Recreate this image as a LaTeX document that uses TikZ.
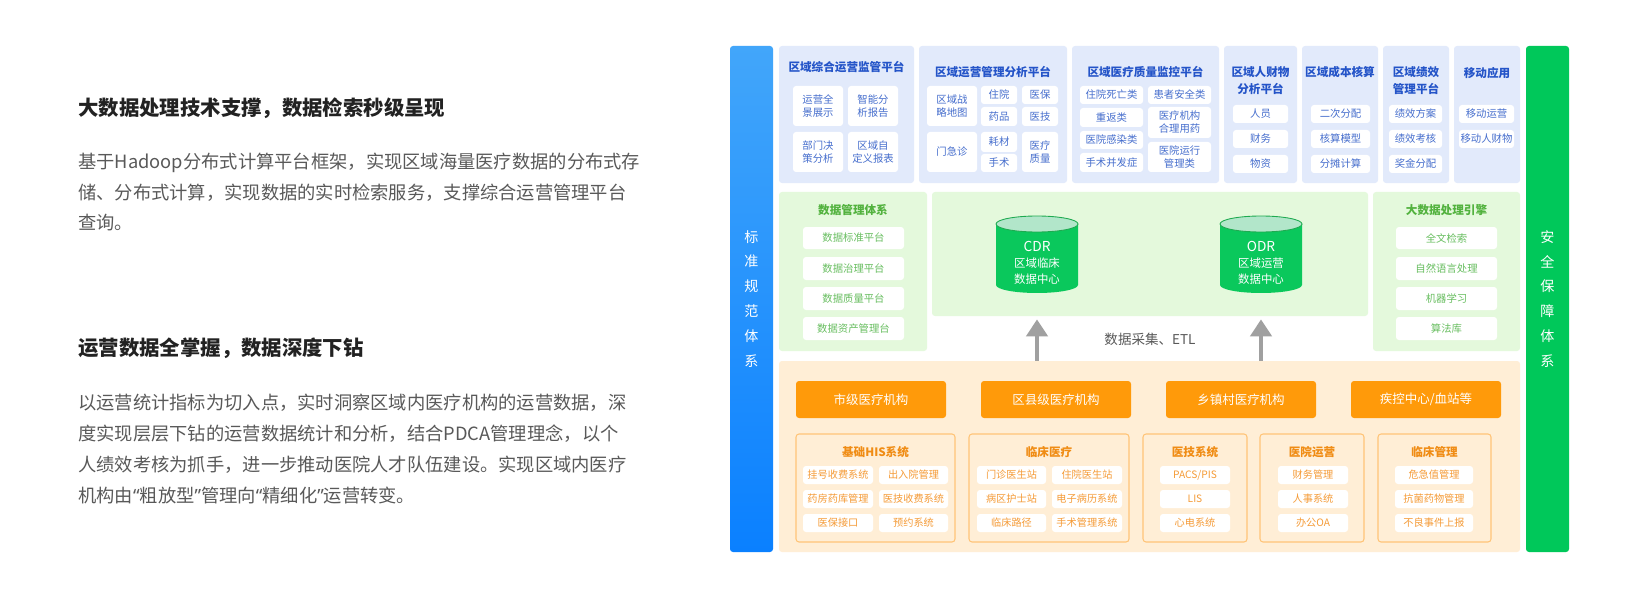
\documentclass[tikz,border=0pt]{standalone}
\usepackage{fontspec}
\setmainfont{Noto Sans CJK SC}
\newfontfamily\quotefont{Noto Sans}
\usepackage{tikz}
\usetikzlibrary{
  arrows.meta,
  calc
}
\definecolor{inkdark}{RGB}{34,34,34}
\definecolor{inkgray}{RGB}{89,89,89}
\definecolor{barblue}{RGB}{10,128,255}
\definecolor{barblueup}{RGB}{66,166,250}
\definecolor{bargreen}{RGB}{0,200,90}
\definecolor{appbg}{RGB}{226,234,251}
\definecolor{appink}{RGB}{36,84,200}
\definecolor{appitem}{RGB}{70,110,205}
\definecolor{databg}{RGB}{228,249,220}
\definecolor{dataink}{RGB}{82,178,62}
\definecolor{dataitem}{RGB}{104,190,96}
\definecolor{dbgreen}{RGB}{10,200,92}
\definecolor{dbtop}{RGB}{178,230,202}
\definecolor{dbedge}{RGB}{30,170,80}
\definecolor{arrowgray}{RGB}{160,160,160}
\definecolor{srcbg}{RGB}{255,238,214}
\definecolor{srcorange}{RGB}{255,154,10}
\definecolor{srcline}{RGB}{255,196,120}
\definecolor{srcink}{RGB}{240,140,20}
\definecolor{srcitem}{RGB}{245,155,55}
\tikzset{
  panel/.style={rounded corners=0.06cm,inner sep=0pt},
  appbox/.style={panel,fill=appbg},
  appcell/.style={panel,fill=white,text=appitem,align=center,font=\fontsize{5.9}{7.4}\selectfont},
  apptitle/.style={inner sep=0pt,text=appink,align=center,font=\bfseries\fontsize{6.6}{9.7}\selectfont},
  databox/.style={panel,fill=databg},
  datacell/.style={panel,fill=white,text=dataitem,font=\fontsize{5.9}{7}\selectfont},
  datatitle/.style={inner sep=0pt,text=dataink,font=\bfseries\fontsize{6.6}{8}\selectfont},
  dbtext/.style={inner sep=0pt,text=white,align=center,font=\fontsize{6.5}{9.1}\selectfont},
  srcbox/.style={panel,fill=srcbg},
  srchead/.style={panel,fill=srcorange,text=white,font=\fontsize{7.1}{8}\selectfont},
  srcgroup/.style={panel,draw=srcline,line width=0.6pt,fill=srcbg},
  srccell/.style={panel,fill=white,text=srcitem,font=\fontsize{5.8}{7}\selectfont},
  srctitle/.style={inner sep=0pt,text=srcink,font=\bfseries\fontsize{6.6}{8}\selectfont},
  sidebar/.style={panel,text=white,align=center,font=\fontsize{8}{14.2}\selectfont},
  uparrow/.style={draw=arrowgray,line width=0.09cm,-{Triangle[width=0.42cm,length=0.34cm]}},
  headline/.style={anchor=west,inner sep=0pt,text=inkdark,font=\bfseries\fontsize{11.6}{14}\selectfont},
  bodytext/.style={anchor=west,inner sep=0pt,text=inkgray,align=left,font=\fontsize{10.4}{17.6}\selectfont}
}
\newcommand{\blk}[7]{%
  \pgfmathsetmacro{\bw}{(#4-#2)*0.02}%
  \pgfmathsetmacro{\bh}{(#5-#3)*0.02}%
  \node[#6,minimum width=\bw cm,minimum height=\bh cm] (#1) at ({(#2+#4)/2},{(#3+#5)/2}) {#7};%
}
\newcommand{\dbcyl}[5]{%
  \fill[dbgreen] (#2-41,224) -- (#2-41,285) arc[start angle=180,end angle=360,x radius=0.82cm,y radius=0.16cm] -- (#2+41,224) -- cycle;%
  \filldraw[fill=dbtop,draw=dbedge,line width=0.5pt] (#2,224) ellipse[x radius=0.82cm,y radius=0.16cm];%
  \node[dbtext] (#1) at (#2,263) {{\fontsize{7.8}{9.1}\selectfont #3}\\#4\\#5};%
}
\newcommand{\qopen}{{\quotefont “}}
\newcommand{\qclose}{{\quotefont ”}}
\begin{document}
\begin{tikzpicture}[x=0.02cm,y=-0.02cm]
  \fill[white] (0,0) rectangle (1645,601);
  \useasboundingbox (0,0) rectangle (1645,601);

  \node[headline] (head1) at (78,108) {大数据处理技术支撑，数据检索秒级呈现};
  \node[bodytext] (body1) at (78,192) {基于Hadoop分布式计算平台框架，实现区域海量医疗数据的分布式存\\储、分布式计算，实现数据的实时检索服务，支撑综合运营管理平台\\查询。};
  \node[headline] (head2) at (78,348) {运营数据全掌握，数据深度下钻};
  \node[bodytext] (body2) at (78,449) {以运营统计指标为切入点，实时洞察区域内医疗机构的运营数据，深\\度实现层层下钻的运营数据统计和分析，结合PDCA管理理念，以个\\人绩效考核为抓手，进一步推动医院人才队伍建设。实现区域内医疗\\机构由\qopen 粗放型\qclose 管理向\qopen 精细化\qclose 运营转变。};

  \blk{stdbar}{730}{46}{773}{552}{sidebar,top color=barblueup,bottom color=barblue}{标\\准\\规\\范\\体\\系}
  \blk{secbar}{1526}{46}{1569}{552}{sidebar,fill=bargreen}{安\\全\\保\\障\\体\\系}

  \blk{app1}{779}{46}{914}{183}{appbox}{}
  \node[apptitle] (app1t) at (846.5,67) {区域综合运营监管平台};
  \blk{a1a}{793}{86}{843}{126}{appcell}{运营全\\景展示}
  \blk{a1b}{848}{86}{898}{126}{appcell}{智能分\\析报告}
  \blk{a1c}{793}{132}{843}{172}{appcell}{部门决\\策分析}
  \blk{a1d}{848}{132}{898}{172}{appcell}{区域自\\定义报表}

  \blk{app2}{919}{46}{1067}{183}{appbox}{}
  \node[apptitle] (app2t) at (993,72) {区域运营管理分析平台};
  \blk{a2a}{927}{86}{977}{126}{appcell}{区域战\\略地图}
  \blk{a2b}{981}{86}{1017}{104}{appcell}{住院}
  \blk{a2c}{1022}{86}{1058}{104}{appcell}{医保}
  \blk{a2d}{981}{107}{1017}{126}{appcell}{药品}
  \blk{a2e}{1022}{107}{1058}{126}{appcell}{医技}
  \blk{a2f}{927}{132}{977}{172}{appcell}{门急诊}
  \blk{a2g}{981}{132}{1017}{152}{appcell}{耗材}
  \blk{a2h}{981}{154}{1017}{172}{appcell}{手术}
  \blk{a2i}{1022}{132}{1058}{172}{appcell}{医疗\\质量}

  \blk{app3}{1072}{46}{1219}{183}{appbox}{}
  \node[apptitle] (app3t) at (1145.5,72) {区域医疗质量监控平台};
  \blk{a3a}{1080}{86}{1143}{104}{appcell}{住院死亡类}
  \blk{a3b}{1080}{108}{1143}{127}{appcell}{重返类}
  \blk{a3c}{1080}{131}{1143}{149}{appcell}{医院感染类}
  \blk{a3d}{1080}{153}{1143}{172}{appcell}{手术并发症}
  \blk{a3e}{1148}{86}{1211}{104}{appcell}{患者安全类}
  \blk{a3f}{1148}{107}{1211}{138}{appcell}{医疗机构\\合理用药}
  \blk{a3g}{1148}{142}{1211}{172}{appcell}{医院运行\\管理类}

  \blk{app4}{1224}{46}{1297}{183}{appbox}{}
  \node[apptitle] (app4t) at (1260.5,80.5) {区域人财物\\分析平台};
  \blk{a4a}{1233}{105}{1288}{123}{appcell}{人员}
  \blk{a4b}{1233}{130}{1288}{148}{appcell}{财务}
  \blk{a4c}{1233}{155}{1288}{173}{appcell}{物资}

  \blk{app5}{1302}{46}{1378}{183}{appbox}{}
  \node[apptitle] (app5t) at (1340,72) {区域成本核算};
  \blk{a5a}{1311}{105}{1370}{123}{appcell}{二次分配}
  \blk{a5b}{1311}{130}{1370}{148}{appcell}{核算模型}
  \blk{a5c}{1311}{155}{1370}{173}{appcell}{分摊计算}

  \blk{app6}{1383}{46}{1449}{183}{appbox}{}
  \node[apptitle] (app6t) at (1416,80.5) {区域绩效\\管理平台};
  \blk{a6a}{1389}{105}{1442}{123}{appcell}{绩效方案}
  \blk{a6b}{1389}{130}{1442}{148}{appcell}{绩效考核}
  \blk{a6c}{1389}{155}{1442}{173}{appcell}{奖金分配}

  \blk{app7}{1454}{46}{1520}{183}{appbox}{}
  \node[apptitle] (app7t) at (1487,73) {移动应用};
  \blk{a7a}{1459}{105}{1514}{123}{appcell}{移动运营}
  \blk{a7b}{1459}{130}{1514}{148}{appcell}{移动人财物}

  \blk{dm}{779}{192}{927}{351}{databox}{}
  \node[datatitle] (dmt) at (853,210) {数据管理体系};
  \blk{dm1}{803}{227}{904}{249}{datacell}{数据标准平台}
  \blk{dm2}{803}{257}{904}{280}{datacell}{数据治理平台}
  \blk{dm3}{803}{287}{904}{310}{datacell}{数据质量平台}
  \blk{dm4}{803}{317}{904}{340}{datacell}{数据资产管理台}

  \blk{hub}{932}{192}{1368}{316}{databox}{}
  \dbcyl{cdr}{1037}{CDR}{区域临床}{数据中心}
  \dbcyl{odr}{1261}{ODR}{区域运营}{数据中心}

  \blk{bd}{1373}{192}{1520}{351}{databox}{}
  \node[datatitle] (bdt) at (1446.5,210) {大数据处理引擎};
  \blk{bd1}{1396}{227}{1497}{249}{datacell}{全文检索}
  \blk{bd2}{1396}{257}{1497}{280}{datacell}{自然语言处理}
  \blk{bd3}{1396}{287}{1497}{310}{datacell}{机器学习}
  \blk{bd4}{1396}{317}{1497}{340}{datacell}{算法库}

  \blk{src}{779}{361}{1520}{552}{srcbox}{}
  \draw[uparrow] (src.north -| cdr) -- ($(hub.south -| cdr)+(0,3)$);
  \draw[uparrow] (src.north -| odr) -- ($(hub.south -| odr)+(0,3)$);
  \node[inner sep=0pt,text=inkgray,font=\fontsize{7.7}{9}\selectfont] (etl) at (1150,339) {数据采集、ETL};

  \blk{h1}{796}{381}{946}{418}{srchead}{市级医疗机构}
  \blk{h2}{981}{381}{1131}{418}{srchead}{区县级医疗机构}
  \blk{h3}{1166}{381}{1316}{418}{srchead}{乡镇村医疗机构}
  \blk{h4}{1351}{381}{1501}{418}{srchead}{疾控中心/血站等}

  \blk{g1}{796}{434}{955}{542}{srcgroup}{}
  \node[srctitle] (g1t) at (875.5,452) {基础HIS系统};
  \blk{g1a}{803}{466}{873}{484}{srccell}{挂号收费系统}
  \blk{g1b}{879}{466}{948}{484}{srccell}{出入院管理}
  \blk{g1c}{803}{490}{873}{508}{srccell}{药房药库管理}
  \blk{g1d}{879}{490}{948}{508}{srccell}{医技收费系统}
  \blk{g1e}{803}{514}{873}{532}{srccell}{医保接口}
  \blk{g1f}{879}{514}{948}{532}{srccell}{预约系统}

  \blk{g2}{969}{434}{1129}{542}{srcgroup}{}
  \node[srctitle] (g2t) at (1049,452) {临床医疗};
  \blk{g2a}{977}{466}{1046}{484}{srccell}{门诊医生站}
  \blk{g2b}{1052}{466}{1122}{484}{srccell}{住院医生站}
  \blk{g2c}{977}{490}{1046}{508}{srccell}{病区护士站}
  \blk{g2d}{1052}{490}{1122}{508}{srccell}{电子病历系统}
  \blk{g2e}{977}{514}{1046}{532}{srccell}{临床路径}
  \blk{g2f}{1052}{514}{1122}{532}{srccell}{手术管理系统}

  \blk{g3}{1143}{434}{1247}{542}{srcgroup}{}
  \node[srctitle] (g3t) at (1195,452) {医技系统};
  \blk{g3a}{1160}{466}{1230}{484}{srccell}{PACS/PIS}
  \blk{g3b}{1160}{490}{1230}{508}{srccell}{LIS}
  \blk{g3c}{1160}{514}{1230}{532}{srccell}{心电系统}

  \blk{g4}{1260}{434}{1364}{542}{srcgroup}{}
  \node[srctitle] (g4t) at (1312,452) {医院运营};
  \blk{g4a}{1278}{466}{1348}{484}{srccell}{财务管理}
  \blk{g4b}{1278}{490}{1348}{508}{srccell}{人事系统}
  \blk{g4c}{1278}{514}{1348}{532}{srccell}{办公OA}

  \blk{g5}{1378}{434}{1491}{542}{srcgroup}{}
  \node[srctitle] (g5t) at (1434.5,452) {临床管理};
  \blk{g5a}{1395}{466}{1473}{484}{srccell}{危急值管理}
  \blk{g5b}{1395}{490}{1473}{508}{srccell}{抗菌药物管理}
  \blk{g5c}{1395}{514}{1473}{532}{srccell}{不良事件上报}
\end{tikzpicture}
\end{document}
